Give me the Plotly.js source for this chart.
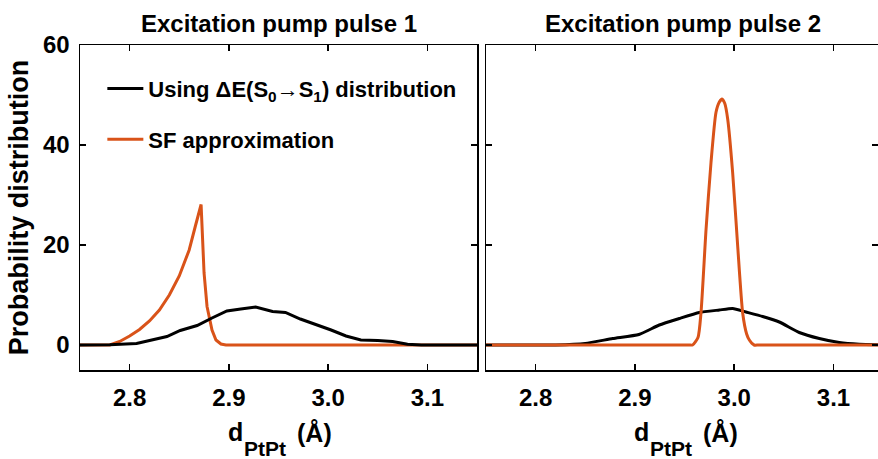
<!DOCTYPE html>
<html>
<head>
<meta charset="utf-8">
<script src="https://cdn.plot.ly/plotly-3.0.1.min.js"></script>
<style>
  html, body { margin: 0; padding: 0; background: #fff; }
  #chart { width: 878px; height: 459px; }
</style>
</head>
<body>
<div id="chart"></div>
<script>
// Pt–Pt distance distributions after each excitation pump pulse
const pulse1DistX = [2.75, 2.78, 2.807, 2.8376, 2.851, 2.868, 2.883, 2.898, 2.912, 2.927, 2.944, 2.957, 2.972, 2.987, 3.003, 3.018, 3.033, 3.050, 3.065, 3.080, 3.094, 3.15];
const pulse1DistY = [0, 0.05, 0.3, 1.7, 2.9, 3.9, 5.4, 6.8, 7.2, 7.6, 6.7, 6.5, 5.2, 4.2, 3.0, 1.8, 1.0, 0.9, 0.7, 0.15, 0, 0];

const pulse1SfX = [2.75, 2.78, 2.79, 2.80, 2.81, 2.82, 2.83, 2.84, 2.85, 2.86, 2.866, 2.872, 2.875, 2.878, 2.883, 2.887, 2.892, 2.897, 3.15];
const pulse1SfY = [0, 0, 0.7, 1.8, 3.1, 4.8, 7.0, 10.0, 13.8, 19.0, 23.6, 28.1, 14.4, 7.7, 3.0, 1.0, 0.2, 0, 0];

const pulse2DistX = [2.75, 2.82, 2.85, 2.8776, 2.904, 2.9245, 2.9447, 2.9648, 2.985, 2.9984, 3.0118, 3.0286, 3.0454, 3.0655, 3.0857, 3.1058, 3.126, 3.145];
const pulse2DistY = [0, 0, 0.3, 1.3, 2.1, 4.0, 5.3, 6.5, 7.0, 7.3, 6.6, 5.7, 4.6, 2.5, 1.3, 0.5, 0.15, 0.05];

const pulse2SfX = [2.75, 2.90, 2.94, 2.95, 2.955, 2.958, 2.9635, 2.9665, 2.9716, 2.9766, 2.9816, 2.985, 2.9877, 2.9905, 2.9934, 2.9984, 3.0035, 3.0085, 3.0125, 3.0152, 3.02, 3.024, 3.028, 3.04, 3.145];
const pulse2SfY = [0, 0, 0, 0, 0, 0, 1.5, 6.4, 23.1, 36.5, 46.5, 48.6, 49.2, 48.3, 45.2, 34.5, 19.7, 6.4, 2.2, 1.0, 0, 0, 0, 0, 0];

const yTicks = [0, 20, 40, 60];
const xTicks = [2.8, 2.9, 3.0, 3.1];
const xTickText = ['2.8', '2.9', '3.0', '3.1'];

const panelTitles = ['Excitation pump pulse 1', 'Excitation pump pulse 2'];
const legendNames = ['Using \u0394E(S<sub>0</sub>\u2192S<sub>1</sub>) distribution', 'SF approximation'];
const xTitleParts = ['d', 'PtPt', '(\u00c5)'];

const BLACK = '#000000';
const ORANGE = '#D95319';
const FONT = 'Liberation Sans, Arial, Helvetica, sans-serif';

// plot area spans 80..878 px horizontally, 45..370 px vertically
const toPaperX = px => (px - 80) / 798;

const traces = [
  { x: pulse1SfX, y: pulse1SfY, xaxis: 'x', yaxis: 'y', mode: 'lines', name: legendNames[1],
    line: { color: ORANGE, width: 3 }, legendgroup: 'sf', legendrank: 2 },
  { x: pulse1DistX, y: pulse1DistY, xaxis: 'x', yaxis: 'y', mode: 'lines', name: legendNames[0],
    line: { color: BLACK, width: 3 }, legendgroup: 'dist', legendrank: 1 },
  { x: pulse2DistX, y: pulse2DistY, xaxis: 'x2', yaxis: 'y2', mode: 'lines', name: legendNames[0],
    line: { color: BLACK, width: 3, shape: 'spline', smoothing: 0.5 }, showlegend: false },
  { x: pulse2SfX, y: pulse2SfY, xaxis: 'x2', yaxis: 'y2', mode: 'lines', name: legendNames[1],
    line: { color: ORANGE, width: 3, shape: 'spline', smoothing: 0.6 }, showlegend: false }
];

const axisCommon = {
  showline: true, linecolor: '#000', linewidth: 1.5,
  ticks: 'inside', ticklen: 6, tickwidth: 1.5, tickcolor: '#000',
  mirror: 'ticks', showgrid: false, zeroline: false,
  tickfont: { family: FONT, size: 24, color: '#000', weight: 'bold' }
};

// x-axis titles: "d" with a large, low-set "PtPt" subscript, then the unit
function xTitle(offsetPx) {
  const f = { family: FONT, color: '#000', weight: 'bold' };
  const base = { xref: 'paper', yref: 'paper', y: 0, xanchor: 'left', yanchor: 'middle', showarrow: false };
  return [
    Object.assign({}, base, { text: xTitleParts[0], x: toPaperX(226 + offsetPx), yshift: -62, font: Object.assign({ size: 25 }, f) }),
    Object.assign({}, base, { text: xTitleParts[1], x: toPaperX(242 + offsetPx), yshift: -78, font: Object.assign({ size: 21 }, f) }),
    Object.assign({}, base, { text: xTitleParts[2], x: toPaperX(295 + offsetPx), yshift: -63, font: Object.assign({ size: 25 }, f) })
  ];
}

const layout = {
  width: 878, height: 459,
  margin: { l: 80, r: 0, t: 45, b: 89 },
  paper_bgcolor: '#fff', plot_bgcolor: '#fff',
  font: { family: FONT, color: '#000', weight: 'bold' },
  showlegend: true,
  legend: {
    x: 0.028, y: 0.93, xanchor: 'left', yanchor: 'top',
    bgcolor: 'rgba(0,0,0,0)', borderwidth: 0,
    font: { family: FONT, size: 22, color: '#000', weight: 'bold' },
    traceorder: 'grouped', tracegroupgap: 19, itemwidth: 36
  },
  xaxis: Object.assign({}, axisCommon, {
    domain: [0, 0.4975], range: [2.75, 3.15],
    tickvals: xTicks, ticktext: xTickText, ticklabelstandoff: 6,
    anchor: 'y'
  }),
  yaxis: Object.assign({}, axisCommon, {
    domain: [0, 1], range: [-5, 60],
    tickvals: yTicks, ticklabelstandoff: 4,
    title: { text: 'Probability distribution', font: { family: FONT, size: 27, color: '#000', weight: 'bold' }, standoff: 6 },
    anchor: 'x'
  }),
  xaxis2: Object.assign({}, axisCommon, {
    domain: [0.5088, 1], range: [2.75, 3.1448],
    tickvals: xTicks, ticktext: xTickText, ticklabelstandoff: 6,
    anchor: 'y2'
  }),
  yaxis2: Object.assign({}, axisCommon, {
    domain: [0, 1], range: [-5, 60],
    tickvals: yTicks, showticklabels: false,
    anchor: 'x2'
  }),
  annotations: [
    { text: panelTitles[0], xref: 'paper', yref: 'paper', x: toPaperX(279), y: 1, yshift: 22,
      xanchor: 'center', yanchor: 'middle', showarrow: false,
      font: { family: FONT, size: 24, color: '#000', weight: 'bold' } },
    { text: panelTitles[1], xref: 'paper', yref: 'paper', x: toPaperX(683), y: 1, yshift: 22,
      xanchor: 'center', yanchor: 'middle', showarrow: false,
      font: { family: FONT, size: 24, color: '#000', weight: 'bold' } }
  ].concat(xTitle(0), xTitle(406))
};

Plotly.newPlot('chart', traces, layout, { staticPlot: true, displayModeBar: false });
</script>
</body>
</html>
